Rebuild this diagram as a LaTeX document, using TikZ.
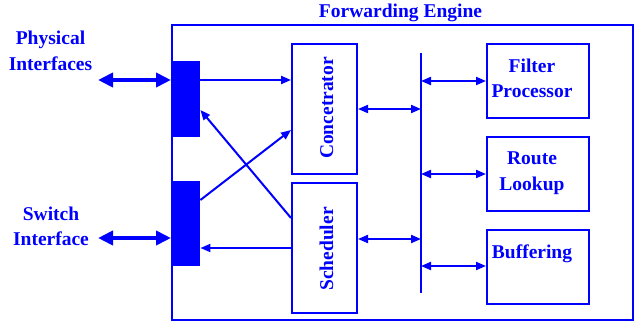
\documentclass[tikz,border=0pt]{standalone}
\usepackage{fontspec}
\setmainfont{Liberation Serif}
\usetikzlibrary{arrows.meta,calc}
\definecolor{fblue}{RGB}{0,0,255}
\begin{document}
\begin{tikzpicture}[x=1pt,y=-1pt,
  box/.style={draw=fblue, line width=2pt, inner sep=0pt, anchor=north west},
  blk/.style={fill=fblue, draw=none, inner sep=0pt, anchor=north west},
  lbl/.style={text=fblue, font=\fontsize{19.5}{25.5}\selectfont\bfseries, align=center, inner sep=0pt},
  arr/.style={fblue, line width=2pt, -{Triangle[length=10pt,width=8pt]}},
  darr/.style={fblue, line width=2pt, {Triangle[length=10pt,width=8pt]}-{Triangle[length=10pt,width=8pt]}},
  tarr/.style={fblue, line width=4pt, {Triangle[length=15pt,width=14pt]}-{Triangle[length=15pt,width=14pt]}}]
\useasboundingbox (0,0) rectangle (634,321);
% outer box
\node[box, minimum width=461pt, minimum height=295pt] (fe) at (171,24) {};
% interface blocks
\node[blk, minimum width=29pt, minimum height=76pt] (pi) at (171,61) {};
\node[blk, minimum width=29pt, minimum height=85pt] (si) at (171,181) {};
% inner boxes
\node[box, minimum width=65pt, minimum height=130pt] (conc) at (291,43) {};
\node[box, minimum width=65pt, minimum height=130pt] (sched) at (291,182) {};
\node[box, minimum width=102pt, minimum height=74pt] (filt) at (486,43) {};
\node[box, minimum width=102pt, minimum height=74pt] (route) at (486,136) {};
\node[box, minimum width=102pt, minimum height=74pt] (buff) at (486,229) {};
% bus
\coordinate (bt) at (421,53);
\coordinate (bb) at (421,293);
\draw[fblue, line width=2pt] (bt) -- (bb);
% labels
\node[lbl, anchor=base] (ttl) at (400.5,17.3) {Forwarding Engine};
\node[lbl] (phy) at (50.5,51) {Physical\\Interfaces};
\node[lbl] (sw) at (51,226.5) {Switch\\Interface};
\node[lbl] (ftxt) at (532,78.4) {Filter\\Processor};
\node[lbl] (rtxt) at (532,173.3) {Route\\Lookup};
\node[lbl, anchor=base] (btxt) at (532,258.3) {Buffering};
\node[lbl, rotate=90, anchor=base] (ctxt) at (333,108) {Concetrator};
\node[lbl, rotate=90, anchor=base] (stxt) at (333,249) {Scheduler};
% external thick arrows
\coordinate (pl) at (98,80);
\coordinate (sl) at (98,238);
\draw[tarr] (pl) -- (pl -| pi.west);
\draw[tarr] (sl) -- (sl -| si.west);
% internal arrows
\draw[arr] (pl -| pi.east) -- (pl -| conc.west);
\draw[arr] ([yshift=-19pt]si.north east) -- ([yshift=45pt]conc.south west);
\draw[arr] ([yshift=-36pt]sched.north west) -- ([yshift=-49pt]pi.north east);
\draw[arr] (sched.west) -- (sched.west -| si.east);
% bus arrows
\draw[darr] (conc.east) -- (conc.east -| bt);
\draw[darr] ([yshift=9pt]sched.east) -- ([yshift=9pt]sched.east -| bt);
\draw[darr] (filt.west -| bt) -- (filt.west);
\draw[darr] (route.west -| bt) -- (route.west);
\draw[darr] ([yshift=1pt]buff.west -| bt) -- ([yshift=1pt]buff.west);
\end{tikzpicture}
\end{document}
